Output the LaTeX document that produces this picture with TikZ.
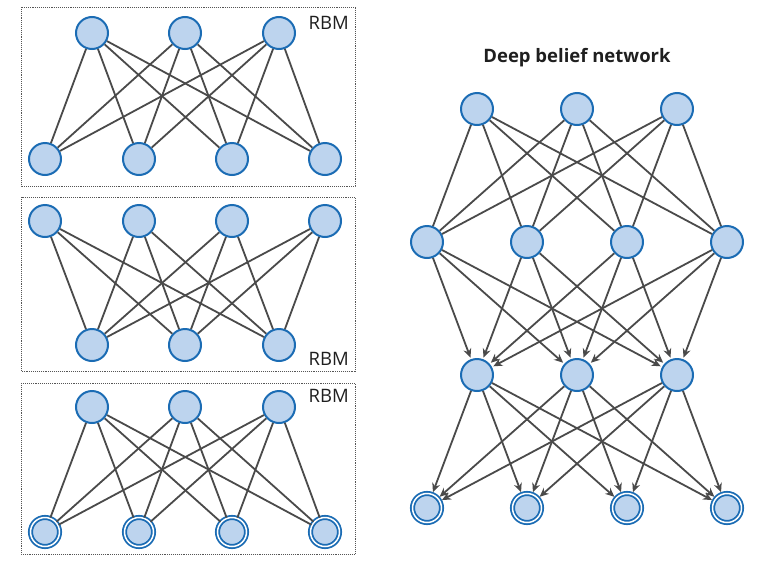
\documentclass[tikz,border=0pt]{standalone}
\usepackage{fontspec}
\setmainfont{Open Sans}
\usetikzlibrary{arrows.meta}
\definecolor{nfill}{HTML}{BDD4EE}
\definecolor{nline}{HTML}{1B6CB4}
\definecolor{eline}{HTML}{4A4A4A}
\definecolor{boxline}{HTML}{555555}
\begin{document}
\begin{tikzpicture}[x=1pt,y=-1pt,
  unit/.style={circle,draw=nline,fill=nfill,line width=2pt,minimum size=32pt,inner sep=0pt},
  vis/.style={circle,draw=nline,fill=nfill,line width=1.8pt,double=white,double distance=1.5pt,minimum size=29pt,inner sep=0pt},
  edge/.style={draw=eline,line width=1.8pt},
  arr/.style={edge,-{Stealth[length=9pt,width=8pt]},shorten >=1.5pt},
  rbmbox/.style={draw=boxline,densely dotted,line width=0.9pt},
  lbl/.style={font=\fontsize{18.5}{20}\selectfont,text=black!88,anchor=base east,inner sep=0pt}]
\useasboundingbox (0,0) rectangle (771,568);
% ---------- RBM boxes ----------
\draw[rbmbox] (21,7) rectangle (355,186);
\draw[rbmbox] (21,197) rectangle (355,371);
\draw[rbmbox] (21,383) rectangle (355,554);
\node[lbl] (l1) at (349,29) {RBM};
\node[lbl] (l2) at (349,365) {RBM};
\node[lbl] (l3) at (349,402) {RBM};
% box 1
\foreach \i/\x in {1/92,2/185,3/279} \node[unit] (pa\i) at (\x,33) {};
\foreach \i/\x in {1/45,2/139,3/232,4/325} \node[unit] (pb\i) at (\x,159) {};
\foreach \i in {1,2,3} \foreach \j in {1,2,3,4} \draw[edge] (pa\i) -- (pb\j);
% box 2
\foreach \i/\x in {1/45,2/139,3/232,4/325} \node[unit] (qa\i) at (\x,221) {};
\foreach \i/\x in {1/92,2/185,3/279} \node[unit] (qb\i) at (\x,345) {};
\foreach \i in {1,2,3,4} \foreach \j in {1,2,3} \draw[edge] (qa\i) -- (qb\j);
% box 3
\foreach \i/\x in {1/92,2/185,3/279} \node[unit] (ra\i) at (\x,407) {};
\foreach \i/\x in {1/45,2/139,3/232,4/325} \node[vis] (rb\i) at (\x,532) {};
\foreach \i in {1,2,3} \foreach \j in {1,2,3,4} \draw[edge] (ra\i) -- (rb\j);
% ---------- Deep belief network ----------
\node[font=\bfseries\fontsize{18.5}{20}\selectfont,text=black!88,anchor=base,inner sep=0pt] (title) at (577,62) {Deep belief network};
\foreach \i/\x in {1/477,2/577,3/677} \node[unit] (d1\i) at (\x,109) {};
\foreach \i/\x in {1/427,2/527,3/627,4/727} \node[unit] (d2\i) at (\x,242) {};
\foreach \i/\x in {1/477,2/577,3/677} \node[unit] (d3\i) at (\x,375) {};
\foreach \i/\x in {1/427,2/527,3/627,4/727} \node[vis] (d4\i) at (\x,508) {};
\foreach \i in {1,2,3} \foreach \j in {1,2,3,4} \draw[edge] (d1\i) -- (d2\j);
\foreach \i in {1,2,3,4} \foreach \j in {1,2,3} \draw[arr] (d2\i) -- (d3\j);
\foreach \i in {1,2,3} \foreach \j in {1,2,3,4} \draw[arr] (d3\i) -- (d4\j);
\end{tikzpicture}
\end{document}
